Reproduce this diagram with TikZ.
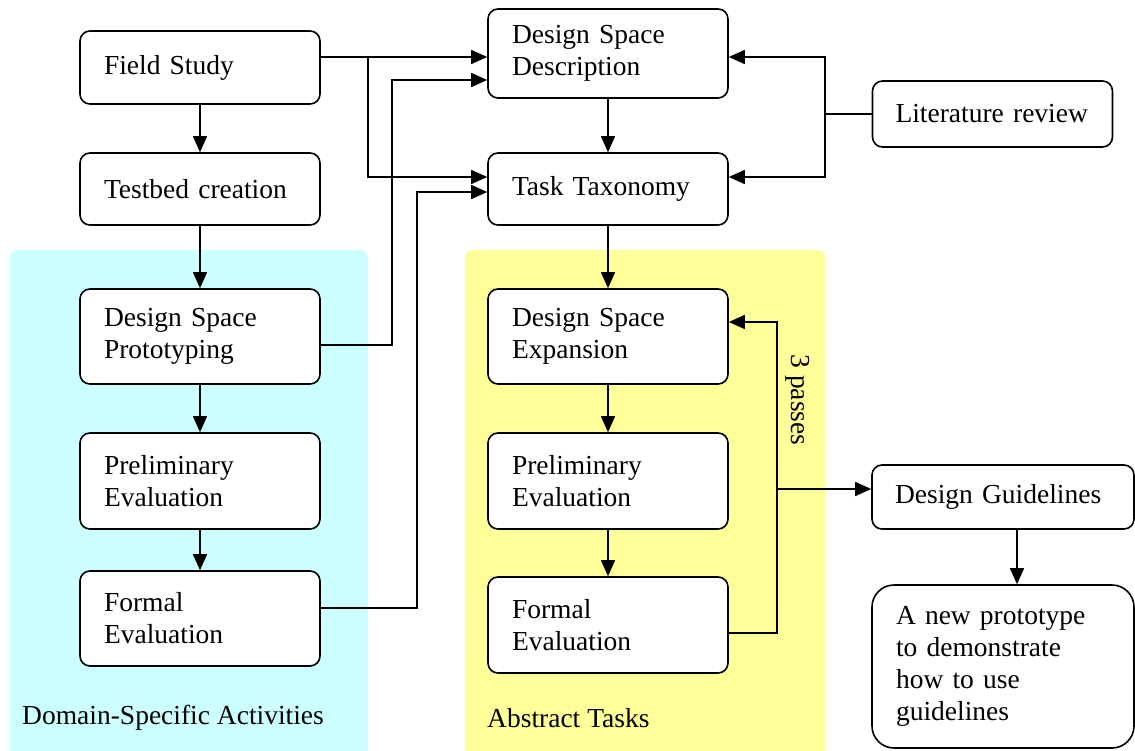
\documentclass[tikz,border=0pt]{standalone}
\usepackage{fontspec}
\setmainfont{Liberation Serif}
\usetikzlibrary{arrows.meta}
\definecolor{bgcyan}{HTML}{CCFFFF}
\definecolor{bgyellow}{HTML}{FFFF99}
\begin{document}
\begin{tikzpicture}[x=1pt,y=-1pt,
  box/.style={draw, line width=1.6pt, rounded corners=10pt, fill=white, align=left,
    inner xsep=24pt, inner ysep=0pt, text width=192pt,
    font=\fontsize{27.5}{32}\selectfont, anchor=center},
  arr/.style={line width=1.6pt, -{Triangle[length=16pt,width=14pt]}},
  ln/.style={line width=1.6pt},
  lbl/.style={font=\fontsize{27.5}{32}\selectfont, inner sep=0pt}
]
\useasboundingbox (0,0) rectangle (1135,750);
% background regions
\fill[bgcyan, rounded corners=8pt] (10,250) rectangle (368,770);
\fill[bgyellow, rounded corners=8pt] (465,250) rectangle (825,770);
\node[lbl, anchor=west] (dsa) at (22,718) {Domain-Specific Activities};
\node[lbl, anchor=west] (abt) at (487,718) {Abstract Tasks};

% left column
\node[box, minimum height=73pt] (fs) at (200,67.5) {Field Study};
\node[box, minimum height=72pt] (tb) at (200,189) {Testbed creation};
\node[box, minimum height=95pt] (dsp) at (200,336.5) {Design Space\\Prototyping};
\node[box, minimum height=96pt] (pe1) at (200,481) {Preliminary\\Evaluation};
\node[box, minimum height=95pt] (fe1) at (200,618.5) {Formal\\Evaluation};

% middle column
\node[box, minimum height=89pt] (dsd) at (608,53.5) {Design Space\\Description};
\node[box, minimum height=72pt] (tt) at (608,189) {Task Taxonomy};
\node[box, minimum height=95pt] (dse) at (608,336.5) {Design Space\\Expansion};
\node[box, minimum height=96pt] (pe2) at (608,481) {Preliminary\\Evaluation};
\node[box, minimum height=96pt] (fe2) at (608,625) {Formal\\Evaluation};

% right column
\node[box, minimum height=66pt, text width=194pt, inner xsep=23pt] (lr) at (992.5,114) {Literature review};
\node[box, minimum height=64pt, text width=216pt, inner xsep=23pt] (dg) at (1003,497) {Design Guidelines};
\node[box, minimum height=163pt, text width=214pt, inner xsep=24pt, rounded corners=22pt] (np) at (1003,666.5) {A new prototype\\to demonstrate\\how to use\\guidelines};

\node[lbl, rotate=-90] (passes) at (798,400) {3 passes};

% helper coordinates
\coordinate (y57) at (0,57);
\coordinate (y80) at (0,80);
\coordinate (y177) at (0,177);
\coordinate (y192) at (0,192);
\coordinate (y322) at (0,322);
\coordinate (y345) at (0,345);
\coordinate (y489) at (0,489);
\coordinate (y608) at (0,608);
\coordinate (y633) at (0,633);
\coordinate (x1017) at (1017,0);
\coordinate (jfs) at (368,57);
\coordinate (jlr) at (825,114);
\coordinate (jfe) at (777,633);
\coordinate (jdg) at (777,489);
\coordinate (jp) at (392,80);
\coordinate (jf) at (417,192);

% vertical flows
\draw[arr] (fs) -- (tb);
\draw[arr] (tb) -- (dsp);
\draw[arr] (dsp) -- (pe1);
\draw[arr] (pe1) -- (fe1);
\draw[arr] (dsd) -- (tt);
\draw[arr] (tt) -- (dse);
\draw[arr] (dse) -- (pe2);
\draw[arr] (pe2) -- (fe2);
\draw[arr] (dg.south -| x1017) -- (np.north -| x1017);

% field study to DSD and TT
\draw[arr] (fs.east |- y57) -- (dsd.west |- y57);
\draw[arr] (jfs) |- (tt.west |- y177);
% DSP to DSD
\draw[arr] (dsp.east |- y345) -| (jp) -- (dsd.west |- y80);
% FE1 to TT
\draw[arr] (fe1.east |- y608) -| (jf) -- (tt.west |- y192);
% literature review
\draw[ln] (lr.west) -- (jlr);
\draw[arr] (jlr) |- (dsd.east |- y57);
\draw[arr] (jlr) |- (tt.east |- y177);
% three passes loop
\draw[arr] (fe2.east |- y633) -- (jfe) |- (dse.east |- y322);
\draw[arr] (jdg) -- (dg.west |- y489);
\end{tikzpicture}
\end{document}
